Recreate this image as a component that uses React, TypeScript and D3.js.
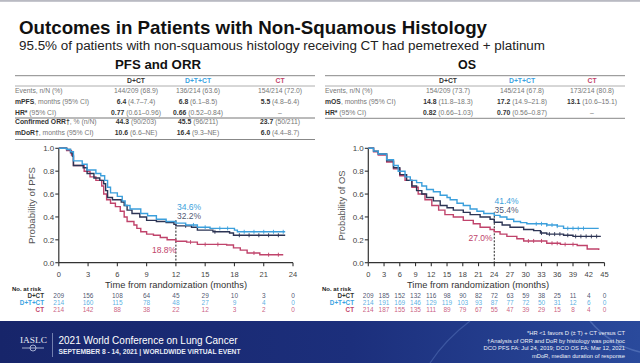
import React from 'react';
import * as d3 from 'd3';

// ---------- data ----------
const SERIES = ['D+CT', 'D+T+CT', 'CT'];

const PFS_DCT: [number, number][] = [[0,1],[0.8,0.99],[1.2,0.96],[1.4,0.93],[1.5,0.85],[2.5,0.83],[2.9,0.78],[3.6,0.74],[4.2,0.72],[4.6,0.69],[4.8,0.63],[5.0,0.57],[5.5,0.55],[6.4,0.53],[6.7,0.5],[7.0,0.46],[7.5,0.43],[8.3,0.40],[9.0,0.37],[10.0,0.36],[11.0,0.35],[11.8,0.335],[12.0,0.322],[13.6,0.31],[14.2,0.285],[15.8,0.27],[17.5,0.26],[17.9,0.24],[23.2,0.24]];
const PFS_DTCT: [number, number][] = [[0,1],[0.8,0.99],[1.2,0.97],[1.5,0.89],[2.4,0.86],[2.9,0.81],[3.8,0.78],[4.3,0.76],[4.7,0.72],[5.0,0.66],[5.3,0.61],[6.0,0.58],[6.5,0.54],[6.8,0.5],[7.3,0.47],[8.4,0.43],[9.1,0.41],[10.0,0.38],[11.0,0.36],[12.0,0.346],[13.0,0.33],[14.2,0.31],[15.5,0.30],[18.0,0.285],[18.3,0.27],[23.2,0.27]];
const PFS_CT: [number, number][] = [[0,1],[0.8,0.98],[1.3,0.94],[1.5,0.85],[2.6,0.80],[3.2,0.75],[3.8,0.72],[4.4,0.67],[4.6,0.60],[4.9,0.55],[5.3,0.52],[5.8,0.49],[6.3,0.45],[6.7,0.40],[7.0,0.36],[7.7,0.33],[8.0,0.30],[8.4,0.27],[9.0,0.25],[9.7,0.24],[10.4,0.22],[11.1,0.20],[12.0,0.188],[13.1,0.18],[14.2,0.16],[17.2,0.155],[17.9,0.13],[18.6,0.11],[19.3,0.085],[20.6,0.07],[23.0,0.07]];

const OS_DCT: [number, number][] = [[0,1],[1,0.975],[1.9,0.95],[3.5,0.89],[4.8,0.83],[6,0.77],[7.3,0.72],[8.3,0.67],[9.2,0.63],[10.2,0.6],[11.1,0.57],[12.4,0.54],[13.7,0.5],[15,0.48],[16.2,0.46],[18.1,0.44],[19.4,0.42],[21.3,0.40],[23.2,0.38],[24,0.354],[25.5,0.33],[27,0.31],[29.6,0.29],[31.5,0.28],[32.8,0.26],[34,0.25],[37.2,0.24],[39,0.23],[44.3,0.23]];
const OS_DTCT: [number, number][] = [[0,1],[1,0.975],[1.9,0.95],[3.5,0.9],[4.8,0.85],[5.7,0.8],[7,0.75],[8,0.72],[9.2,0.70],[10.2,0.67],[11.1,0.64],[12.4,0.62],[13.7,0.59],[15,0.57],[15.6,0.55],[16.9,0.52],[18.1,0.50],[19.4,0.47],[20.7,0.45],[22,0.43],[24,0.414],[25.1,0.40],[26.4,0.38],[27.7,0.36],[29,0.35],[30.2,0.34],[34,0.33],[36,0.32],[37.2,0.30],[43.9,0.30]];
const OS_CT: [number, number][] = [[0,1],[1,0.97],[1.9,0.94],[3.5,0.88],[4.8,0.82],[6,0.76],[7,0.72],[8.3,0.66],[9.5,0.60],[10.8,0.55],[12.1,0.50],[13.4,0.46],[14.6,0.42],[16.2,0.40],[18.1,0.37],[20,0.34],[21.3,0.31],[23.2,0.29],[24,0.27],[25.1,0.25],[26.4,0.23],[28.3,0.21],[29.6,0.19],[34,0.17],[36.6,0.16],[39.8,0.15],[41.7,0.12],[43.9,0.11]];

const PFS_DCT_CENS = [13, 16, 18.5, 19.5, 20.5, 21.5, 22.5];
const PFS_DTCT_CENS = [13.8, 15, 16.5, 17.3, 19, 20, 21, 22, 23];
const PFS_CT_CENS = [13.5, 15, 16.3, 20, 21.5, 22.5];
const OS_DCT_CENS = [33, 34.5, 35.5, 36.5, 38, 39.5, 40.5, 41.5, 42.5, 43.5];
const OS_DTCT_CENS = [32, 33, 34, 35, 36, 38, 39, 40, 41];
const OS_CT_CENS = [30.5, 31.5, 33, 35, 36, 37.5, 39];

const PFS_TICKS = [0, 3, 6, 9, 12, 15, 18, 21, 24];
const OS_TICKS = [0, 3, 6, 9, 12, 15, 18, 21, 24, 27, 30, 33, 36, 39, 42, 45];
const Y_TICKS = [0, 0.2, 0.4, 0.6, 0.8, 1.0];

const PFS_RISK_DCT = [209, 156, 108, 64, 45, 29, 10, 3, 0];
const PFS_RISK_DTCT = [214, 160, 115, 78, 48, 27, 9, 4, 0];
const PFS_RISK_CT = [214, 142, 88, 38, 22, 12, 3, 2, 0];
const OS_RISK_DCT = [209, 185, 152, 132, 116, 98, 90, 82, 72, 63, 59, 38, 25, 11, 4, 0];
const OS_RISK_DTCT = [214, 191, 169, 146, 129, 119, 103, 93, 87, 77, 72, 50, 31, 12, 6, 0];
const OS_RISK_CT = [214, 187, 155, 135, 111, 89, 79, 67, 55, 47, 39, 29, 15, 8, 4, 0];

const PFS_LANDMARK = 12;
const PFS_LANDMARK_LABELS = ['32.2%', '34.6%', '18.8%'];
const OS_LANDMARK = 24;
const OS_LANDMARK_LABELS = ['35.4%', '41.4%', '27.0%'];

// table rows: [label-bold, label-rest, col1, col2, col3] with value split bold/rest
const PFS_TABLE: [string, string, [string, string], [string, string], [string, string]][] = [
  ['', 'Events, n/N (%)', ['', '144/209 (68.9)'], ['', '136/214 (63.6)'], ['', '154/214 (72.0)']],
  ['mPFS', ', months (95% CI)', ['6.4', ' (4.7–7.4)'], ['6.8', ' (6.1–8.5)'], ['5.5', ' (4.8–6.4)']],
  ['HR*', ' (95% CI)', ['0.77', ' (0.61–0.96)'], ['0.66', ' (0.52–0.84)'], ['', '–']],
  ['Confirmed ORR†', ', % (n/N)', ['44.3', ' (90/203)'], ['45.5', ' (96/211)'], ['23.7', ' (50/211)']],
  ['mDoR†', ', months (95% CI)', ['10.6', ' (6.6–NE)'], ['16.4', ' (9.3–NE)'], ['6.0', ' (4.4–8.7)']],
];
const OS_TABLE: [string, string, [string, string], [string, string], [string, string]][] = [
  ['', 'Events, n/N (%)', ['', '154/209 (73.7)'], ['', '145/214 (67.8)'], ['', '173/214 (80.8)']],
  ['mOS', ', months (95% CI)', ['14.8', ' (11.8–18.3)'], ['17.2', ' (14.9–21.8)'], ['13.1', ' (10.6–15.1)']],
  ['HR*', ' (95% CI)', ['0.82', ' (0.66–1.03)'], ['0.70', ' (0.56–0.87)'], ['', '–']],
];

const NOTES = [
  '*HR <1 favors D (± T) + CT versus CT',
  '†Analysis of ORR and DoR by histology was post hoc',
  'DCO PFS FA: Jul 24, 2019; DCO OS FA: Mar 12, 2021',
  'mDoR, median duration of response',
];

// ---------- style ----------
const COLORS = ['#2c3454', '#3b9fdc', '#c0436b'];
const HEAD_COLORS = ['#333333', '#3aa3e2', '#c2436a'];
const FONT = 'Liberation Sans, Arial, Helvetica, sans-serif';

function survAt(data: [number, number][], t: number) {
  let s = 1;
  for (const [tt, v] of data) { if (tt <= t) s = v; else break; }
  return s;
}

type PanelProps = {
  x0: number; x1: number; xMax: number; ticks: number[];
  curves: [number, number][][]; cens: number[][];
  landmark: number; landmarkLabels: string[];
  labelPos: [number, number][]; risk: number[][];
  yLabel: string; yLabelX: number; yLabelLen: number;
  titleX: number; riskLabelX: number; noRiskX: number;
};

function KMPanel(p: PanelProps) {
  const x = d3.scaleLinear().domain([0, p.xMax]).range([p.x0, p.x1]);
  const y = d3.scaleLinear().domain([0, 1]).range([262.7, 148.3]);
  const line = d3.line<[number, number]>().x(d => x(d[0])).y(d => y(d[1])).curve(d3.curveStepAfter);
  const lmTop = Math.max(...p.curves.map(c => survAt(c, p.landmark)));
  const order = [2, 0, 1];
  const riskY = [298.3, 305.3, 312.3];
  return (
    <g>
      {/* y axis */}
      <line x1={p.x0} x2={p.x0} y1={y(0)} y2={y(1)} stroke="#333" strokeWidth={1.2} />
      {Y_TICKS.map(t => (
        <g key={t}>
          <line x1={p.x0 - 3.5} x2={p.x0} y1={y(t)} y2={y(t)} stroke="#333" strokeWidth={1.1} />
          <text x={p.x0 - 4.5} y={y(t) + 2.8} textAnchor="end" fontSize={8} fill="#444" fontFamily={FONT}>{t.toFixed(1)}</text>
        </g>
      ))}
      <text transform={`translate(${p.yLabelX},${(y(0) + y(1)) / 2}) rotate(-90)`} textAnchor="middle" fontSize={8.5}
        fill="#555" fontFamily={FONT} textLength={p.yLabelLen} lengthAdjust="spacingAndGlyphs">{p.yLabel}</text>
      {/* x axis */}
      <line x1={p.x0} x2={x(p.xMax)} y1={y(0)} y2={y(0)} stroke="#333" strokeWidth={1.2} />
      {p.ticks.map(t => (
        <g key={t}>
          <line x1={x(t)} x2={x(t)} y1={y(0)} y2={y(0) + 3.5} stroke="#333" strokeWidth={1.1} />
          <text x={x(t)} y={276.5} textAnchor="middle" fontSize={7.5} fill="#444" fontFamily={FONT}>{t}</text>
        </g>
      ))}
      <text x={p.titleX} y={288} textAnchor="middle" fontSize={9.5} fill="#333" fontFamily={FONT}
        textLength={142} lengthAdjust="spacingAndGlyphs">Time from randomization (months)</text>
      {/* landmark */}
      <line x1={x(p.landmark)} x2={x(p.landmark)} y1={y(lmTop) - 3} y2={y(0)} stroke="#222" strokeWidth={1} strokeDasharray="2,1.5" />
      {/* curves */}
      {order.map(i => (
        <g key={i}>
          <path d={line(p.curves[i]) || ''} fill="none" stroke={COLORS[i]} strokeWidth={1.4} />
          {p.cens[i].map((c, k) => (
            <line key={k} x1={x(c)} x2={x(c)} y1={y(survAt(p.curves[i], c)) - 2} y2={y(survAt(p.curves[i], c)) + 2}
              stroke={COLORS[i]} strokeWidth={0.9} />
          ))}
        </g>
      ))}
      {p.landmarkLabels.map((l, i) => (
        <text key={i} x={p.labelPos[i][0]} y={p.labelPos[i][1]} fontSize={8.5} fill={COLORS[i]}
          fillOpacity={i === 0 ? 0.85 : 1} fontFamily={FONT}>{l}</text>
      ))}
      {/* at risk */}
      <text x={p.noRiskX} y={291} fontSize={6} fontWeight="bold" fill="#222" fontFamily={FONT}>No. at risk</text>
      {SERIES.map((s, i) => (
        <g key={s}>
          <text x={p.riskLabelX} y={riskY[i]} textAnchor="end" fontSize={6.3} fontWeight="bold" fill={HEAD_COLORS[i]} fontFamily={FONT}>{s}</text>
          {p.risk[i].map((v, k) => (
            <text key={k} x={x(p.ticks[k])} y={riskY[i]} textAnchor="middle" fontSize={6.5} fill={COLORS[i]}
              fillOpacity={0.85} fontFamily={FONT}>{v}</text>
          ))}
        </g>
      ))}
    </g>
  );
}

type TableProps = {
  x0: number; x1: number; cols: number[]; title: string; titleX: number; titleLen: number;
  rows: typeof PFS_TABLE; sepAfter: number;
};

function Table(t: TableProps) {
  const rowY = [92.5, 104, 114.8, 124.2, 134.8];
  const lastLine = t.rows.length > 3 ? 139.5 : 118.3;
  return (
    <g fontFamily={FONT}>
      <text x={t.titleX} y={68.5} textAnchor="middle" fontSize={13} fontWeight="bold" fill="#111"
        textLength={t.titleLen} lengthAdjust="spacingAndGlyphs">{t.title}</text>
      <line x1={t.x0} x2={t.x1} y1={75.7} y2={75.7} stroke="#888" strokeWidth={1} />
      <line x1={t.x0} x2={t.x1} y1={86} y2={86} stroke="#999" strokeWidth={0.8} />
      {t.sepAfter > 0 && <line x1={t.x0} x2={t.x1} y1={118} y2={118} stroke="#666" strokeWidth={0.9} />}
      <line x1={t.x0} x2={t.x1} y1={lastLine} y2={lastLine} stroke="#888" strokeWidth={1} />
      {SERIES.map((s, i) => (
        <text key={s} x={t.cols[i]} y={83.3} textAnchor="middle" fontSize={6.8} fontWeight="bold" fill={HEAD_COLORS[i]}>{s}</text>
      ))}
      {t.rows.map((r, ri) => (
        <g key={ri}>
          <text x={t.x0} y={rowY[ri]} fontSize={6.8} fill="#777">
            {r[0] && <tspan fontWeight="bold" fill="#333">{r[0]}</tspan>}<tspan>{r[1]}</tspan>
          </text>
          {[r[2], r[3], r[4]].map((v, ci) => (
            <text key={ci} x={t.cols[ci]} y={rowY[ri]} textAnchor="middle" fontSize={6.8} fill="#777">
              {v[0] && <tspan fontWeight="bold" fill="#333">{v[0]}</tspan>}<tspan>{v[1]}</tspan>
            </text>
          ))}
        </g>
      ))}
    </g>
  );
}

export default function App() {
  return (
    <svg width={640} height={363} viewBox="0 0 640 363" style={{ position: 'absolute', left: 0, top: 0, background: '#fff' }}>
      <defs>
        <linearGradient id="foot" x1="0" x2="1" y1="0" y2="0">
          <stop offset="0" stopColor="#17256a" />
          <stop offset="0.55" stopColor="#1c2f7c" />
          <stop offset="1" stopColor="#2a4a9c" />
        </linearGradient>
      </defs>
      <rect x={0} y={0} width={640} height={363} fill="#ffffff" />
      <rect x={0} y={0} width={640} height={1.8} fill="#b9bac2" />
      <text x={19} y={34} fontSize={19} fontWeight="bold" fill="#111" fontFamily={FONT}
        textLength={468} lengthAdjust="spacingAndGlyphs">Outcomes in Patients with Non-Squamous Histology</text>
      <text x={19} y={49.5} fontSize={12} fill="#222" fontFamily={FONT}
        textLength={526} lengthAdjust="spacingAndGlyphs">95.5% of patients with non-squamous histology receiving CT had pemetrexed + platinum</text>

      <Table x0={15} x1={315} cols={[136, 198, 280]} title="PFS and ORR" titleX={158} titleLen={86} rows={PFS_TABLE} sepAfter={1} />
      <Table x0={325} x1={625} cols={[448, 522, 592]} title="OS" titleX={467} titleLen={18} rows={OS_TABLE} sepAfter={0} />

      <KMPanel x0={58.8} x1={293} xMax={24} ticks={PFS_TICKS}
        curves={[PFS_DCT, PFS_DTCT, PFS_CT]} cens={[PFS_DCT_CENS, PFS_DTCT_CENS, PFS_CT_CENS]}
        landmark={PFS_LANDMARK} landmarkLabels={PFS_LANDMARK_LABELS}
        labelPos={[[177, 218.5], [177, 210], [152, 253]]}
        risk={[PFS_RISK_DCT, PFS_RISK_DTCT, PFS_RISK_CT]}
        yLabel="Probability of PFS" yLabelX={34.5} yLabelLen={77} titleX={176} riskLabelX={44} noRiskX={12} />
      <KMPanel x0={368.3} x1={604.5} xMax={45} ticks={OS_TICKS}
        curves={[OS_DCT, OS_DTCT, OS_CT]} cens={[OS_DCT_CENS, OS_DTCT_CENS, OS_CT_CENS]}
        landmark={OS_LANDMARK} landmarkLabels={OS_LANDMARK_LABELS}
        labelPos={[[494.5, 212.5], [494.5, 203.5], [468.5, 240.5]]}
        risk={[OS_RISK_DCT, OS_RISK_DTCT, OS_RISK_CT]}
        yLabel="Probability of OS" yLabelX={344.5} yLabelLen={70} titleX={478} riskLabelX={354} noRiskX={322} />

      {/* footer */}
      <rect x={0} y={321} width={640} height={42} fill="url(#foot)" />
      <path d="M430,363 Q445,340 470,321" fill="none" stroke="#6f8fd0" strokeOpacity={0.35} strokeWidth={1.2} />
      <path d="M590,321 Q610,345 640,352" fill="none" stroke="#8aa6e0" strokeOpacity={0.35} strokeWidth={1.5} />
      <text x={20} y={343} fontSize={8} fill="#e8ecf5" fontFamily="Liberation Serif, Times New Roman, serif"
        textLength={27} lengthAdjust="spacingAndGlyphs">IASLC</text>
      <line x1={22} x2={44} y1={348} y2={348} stroke="#c8d0e8" strokeWidth={0.8} />
      <circle cx={33} cy={348} r={3} fill="none" stroke="#c8d0e8" strokeWidth={0.8} />
      <line x1={52.5} x2={52.5} y1={333} y2={357} stroke="#9aa6cc" strokeWidth={0.7} />
      <text x={58.5} y={344.3} fontSize={11} fill="#fff" fontFamily={FONT}
        textLength={179} lengthAdjust="spacingAndGlyphs">2021 World Conference on Lung Cancer</text>
      <text x={58.5} y={353.5} fontSize={6.3} fontWeight="bold" fill="#e6eaf5" fontFamily={FONT}
        textLength={182} lengthAdjust="spacingAndGlyphs">SEPTEMBER 8 - 14, 2021 | WORLDWIDE VIRTUAL EVENT</text>
      {NOTES.map((n, i) => (
        <text key={i} x={625} y={335 + i * 7.6} textAnchor="end" fontSize={5.8} fill="#eef1f8" fontFamily={FONT}>{n}</text>
      ))}
    </svg>
  );
}
